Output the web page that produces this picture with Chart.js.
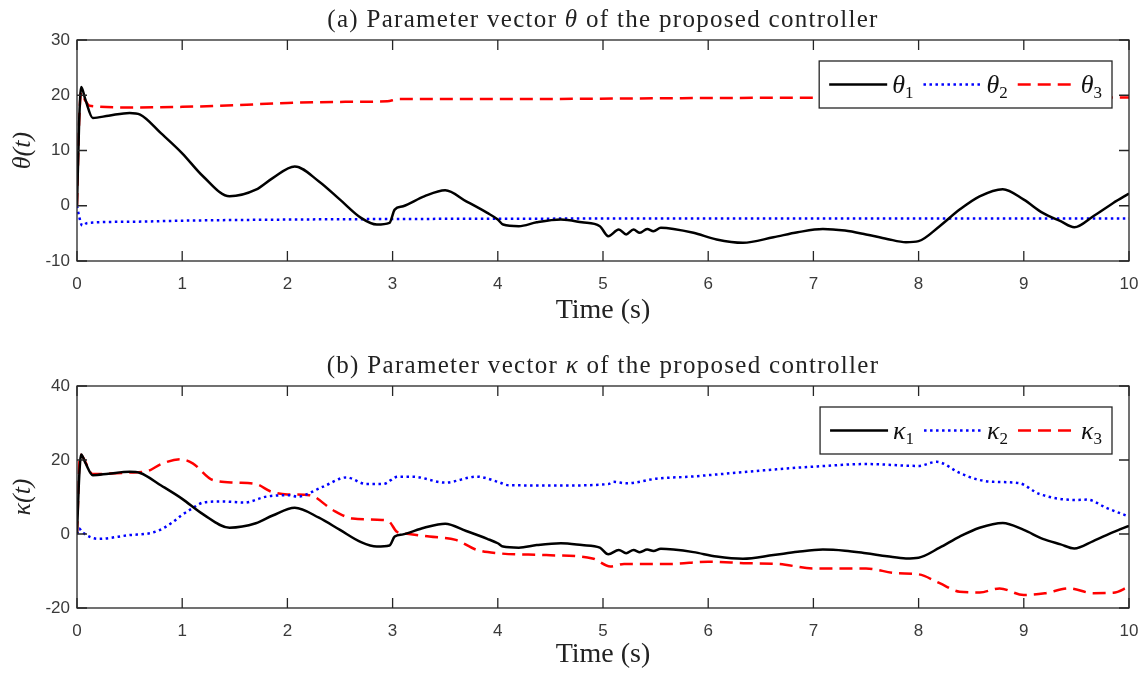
<!DOCTYPE html>
<html>
<head>
<meta charset="utf-8">
<script src="https://cdn.jsdelivr.net/npm/chart.js@4"></script>
<style>
body{margin:0;background:#fff;width:1146px;height:674px;position:relative;overflow:hidden}
canvas{position:absolute;left:0}
.ttl{position:absolute;left:77px;width:1052px;text-align:center;font-family:"Liberation Serif",serif;font-size:25px;letter-spacing:1.3px;color:#222;line-height:1;white-space:nowrap}
</style>
</head>
<body>
<canvas id="chartA" width="1146" height="330" style="top:0"></canvas>
<canvas id="chartB" width="1146" height="337" style="top:337px"></canvas>
<div class="ttl" style="top:6px">(a) Parameter vector <i>θ</i> of the proposed controller</div>
<div class="ttl" style="top:352px">(b) Parameter vector <i>κ</i> of the proposed controller</div>
<script>
// theta (a)
const tTheta1 = [0,0.02,0.04,0.08,0.15,0.3,0.5,0.6,0.8,1.0,1.2,1.45,1.7,1.86,2.07,2.3,2.5,2.7,2.85,2.97,3.02,3.1,3.3,3.5,3.7,3.9,4.0,4.05,4.2,4.37,4.6,4.8,4.97,5.05,5.15,5.22,5.29,5.35,5.42,5.48,5.55,5.67,5.86,6.08,6.33,6.62,6.85,7.09,7.3,7.5,7.7,7.88,8.0,8.2,8.39,8.58,8.8,9.0,9.18,9.35,9.48,9.66,9.85,10];
const theta1 = [0,15,21.5,19.2,15.9,16.3,16.8,16.5,13.1,9.5,5.3,1.7,2.9,5.0,7.1,4.4,1.1,-2.2,-3.4,-3.1,-0.7,-0.1,1.7,2.8,0.8,-1.3,-2.5,-3.4,-3.7,-3.0,-2.5,-3.0,-3.7,-5.5,-4.3,-5.2,-4.3,-4.9,-4.2,-4.6,-4.0,-4.2,-4.9,-6.1,-6.7,-5.7,-4.8,-4.2,-4.5,-5.2,-6.0,-6.6,-6.4,-3.7,-0.7,1.7,3.0,1.1,-1.3,-2.8,-3.9,-1.9,0.5,2.2];
const tTheta2 = [0,0.02,0.05,0.1,0.5,1,2,3,4,6,8,10];
const theta2 = [0,-1.9,-3.6,-3.1,-2.9,-2.7,-2.5,-2.4,-2.35,-2.3,-2.3,-2.3];
const tTheta3 = [0,0.02,0.04,0.08,0.12,0.5,1,1.5,2,2.5,2.95,3.05,4,6,8,10];
const theta3 = [0,15,20.5,19,18.1,17.8,17.9,18.2,18.6,18.8,18.9,19.3,19.3,19.5,19.6,19.6];

// kappa (b)
const tKappa1 = tTheta1;
const kappa1 = [0,15,21.5,19.2,15.9,16.3,16.8,16.5,13.1,9.5,5.3,1.7,2.9,5.0,7.1,4.4,1.1,-2.2,-3.4,-3.1,-0.7,-0.1,1.7,2.8,0.8,-1.3,-2.5,-3.4,-3.7,-3.0,-2.5,-3.0,-3.7,-5.5,-4.3,-5.2,-4.3,-4.9,-4.2,-4.6,-4.0,-4.2,-4.9,-6.1,-6.7,-5.7,-4.8,-4.2,-4.5,-5.2,-6.0,-6.6,-6.4,-3.7,-0.7,1.7,3.0,1.1,-1.3,-2.8,-3.9,-1.9,0.5,2.2];
const tKappa2 = [0,0.02,0.05,0.2,0.5,0.69,0.78,0.9,0.99,1.1,1.2,1.39,1.59,1.8,2.02,2.09,2.34,2.56,2.75,2.91,3.05,3.19,3.5,3.8,4.0,4.1,4.6,5.05,5.1,5.22,5.52,5.83,6.0,6.37,6.65,7.0,7.5,8.0,8.17,8.39,8.55,8.71,8.95,9.15,9.5,9.6,9.79,10];
const kappa2 = [0,1.5,0.5,-1.3,-0.3,0.2,1,3,5,7,8.5,8.8,8.5,10.1,10.5,10.1,12.8,15.3,13.5,13.5,15.5,15.5,13.9,15.5,14.1,13.2,13.1,13.5,14.1,13.7,15,15.5,15.9,16.8,17.5,18.2,18.9,18.4,19.5,16.5,14.8,14.1,13.8,10.8,9.2,9.3,7,4.7];
const tKappa3 = [0,0.03,0.15,0.5,0.66,0.8,0.98,1.1,1.29,1.51,1.7,1.85,2.0,2.21,2.43,2.62,2.9,2.97,3.04,3.1,3.35,3.6,3.8,4.0,4.46,4.9,5.07,5.2,5.64,6.0,6.37,6.67,7.0,7.5,7.79,8.0,8.2,8.39,8.58,8.77,9.0,9.2,9.43,9.66,9.85,10];
const kappa3 = [0,21.5,16.2,16.6,16.9,18.9,20.2,19.1,14.6,13.9,13.5,11.4,10.7,10.5,6.5,4.2,3.8,3.3,0.6,0.2,-0.7,-1.6,-4.3,-5.2,-5.7,-6.6,-8.8,-8.1,-8.1,-7.5,-7.9,-8.1,-9.3,-9.3,-10.6,-10.9,-13.3,-15.6,-15.8,-14.7,-16.5,-16,-14.7,-16,-15.9,-14.2];

const xTicks = [0,1,2,3,4,5,6,7,8,9,10];
const yTicksA = [-10,0,10,20,30];
const yTicksB = [-20,0,20,40];

function pts(t, v){
	return t.map(function(x, i){ return {x: x, y: v[i]}; });
}

function series(label, t, v, color, dash){
	return {
		label: label,
		data: pts(t, v),
		borderColor: color,
		backgroundColor: color,
		borderWidth: 2.5,
		borderDash: dash,
		borderCapStyle: 'butt',
		pointRadius: 0,
		cubicInterpolationMode: 'monotone'
	};
}

// box, inward ticks and legend
const frame = {
	id: 'frame',
	afterDatasetsDraw(chart){
		const ctx = chart.ctx;
		const a = chart.chartArea;
		const xs = chart.scales.x, ys = chart.scales.y;
		ctx.save();
		ctx.strokeStyle = '#262626';
		ctx.lineWidth = 1.3;
		ctx.setLineDash([]);
		ctx.strokeRect(a.left, a.top, a.right - a.left, a.bottom - a.top);
		ctx.beginPath();
		xs.ticks.forEach(function(tk){
			const px = xs.getPixelForValue(tk.value);
			ctx.moveTo(px, a.bottom); ctx.lineTo(px, a.bottom - 10);
			ctx.moveTo(px, a.top); ctx.lineTo(px, a.top + 10);
		});
		ys.ticks.forEach(function(tk){
			const py = ys.getPixelForValue(tk.value);
			ctx.moveTo(a.left, py); ctx.lineTo(a.left + 10, py);
			ctx.moveTo(a.right, py); ctx.lineTo(a.right - 10, py);
		});
		ctx.stroke();

		// legend
		const sets = chart.data.datasets;
		const lineLen = 58;
		ctx.textBaseline = 'alphabetic';
		let widths = sets.map(function(ds){
			ctx.font = 'italic 26px "Liberation Serif"';
			let w = ctx.measureText(ds.label.slice(0, -1)).width;
			ctx.font = '17px "Liberation Serif"';
			return w + ctx.measureText(ds.label.slice(-1)).width;
		});
		let total = 10;
		widths.forEach(function(w){ total += lineLen + 5 + w + 10; });
		const bx = a.right - 17 - total, by = a.top + 21, bh = 47;
		ctx.fillStyle = '#fff';
		ctx.fillRect(bx, by, total, bh);
		ctx.strokeStyle = '#262626';
		ctx.lineWidth = 1.3;
		ctx.strokeRect(bx, by, total, bh);
		let x = bx + 10;
		const cy = by + bh / 2;
		sets.forEach(function(ds, i){
			ctx.beginPath();
			ctx.strokeStyle = ds.borderColor;
			ctx.lineWidth = 2.5;
			ctx.setLineDash(ds.borderDash || []);
			ctx.moveTo(x, cy); ctx.lineTo(x + lineLen, cy);
			ctx.stroke();
			ctx.setLineDash([]);
			x += lineLen + 5;
			ctx.fillStyle = '#111';
			ctx.font = 'italic 26px "Liberation Serif"';
			const sym = ds.label.slice(0, -1);
			ctx.fillText(sym, x, cy + 8);
			const w = ctx.measureText(sym).width;
			ctx.font = '17px "Liberation Serif"';
			ctx.fillText(ds.label.slice(-1), x + w, cy + 13);
			x += widths[i] + 10;
		});
		ctx.restore();
	}
};

function makeOptions(yMin, yMax, yTicks, yTitle, padTop, xAxisH){
	return {
		responsive: false,
		animation: false,
		layout: {padding: {top: padTop, right: 17, left: 0, bottom: 0}},
		plugins: {legend: {display: false}, tooltip: {enabled: false}},
		scales: {
			x: {
				type: 'linear', min: 0, max: 10,
				afterBuildTicks: function(s){ s.ticks = xTicks.map(function(v){ return {value: v}; }); },
				ticks: {padding: 5, color: '#3a3a3a', font: {family: 'Liberation Sans', size: 17}, maxRotation: 0},
				grid: {display: false},
				border: {display: false},
				title: {display: true, text: 'Time (s)', color: '#222', font: {family: 'Liberation Serif', size: 28}, padding: {top: 0, bottom: 3}},
				afterFit: function(s){ s.height = xAxisH; }
			},
			y: {
				min: yMin, max: yMax,
				afterBuildTicks: function(s){ s.ticks = yTicks.map(function(v){ return {value: v}; }); },
				ticks: {padding: -1, color: '#3a3a3a', font: {family: 'Liberation Sans', size: 17}},
				grid: {display: false},
				border: {display: false},
				title: {display: true, text: yTitle, color: '#222', font: {family: 'Liberation Serif', size: 26, style: 'italic'}, padding: {top: 8, bottom: 0}},
				afterFit: function(s){ s.width = 77; }
			}
		}
	};
}

new Chart(document.getElementById('chartA'), {
	type: 'line',
	data: {
		datasets: [
			series('θ1', tTheta1, theta1, '#000000', []),
			series('θ2', tTheta2, theta2, '#0000ff', [2.5, 3.5]),
			series('θ3', tTheta3, theta3, '#ff0000', [13, 7])
		]
	},
	options: makeOptions(-10, 30, yTicksA, 'θ(t)', 40, 69),
	plugins: [frame]
});

new Chart(document.getElementById('chartB'), {
	type: 'line',
	data: {
		datasets: [
			series('κ1', tKappa1, kappa1, '#000000', []),
			series('κ2', tKappa2, kappa2, '#0000ff', [2.5, 3.5]),
			series('κ3', tKappa3, kappa3, '#ff0000', [13, 7])
		]
	},
	options: makeOptions(-20, 40, yTicksB, 'κ(t)', 49, 66),
	plugins: [frame]
});
</script>
</body>
</html>
